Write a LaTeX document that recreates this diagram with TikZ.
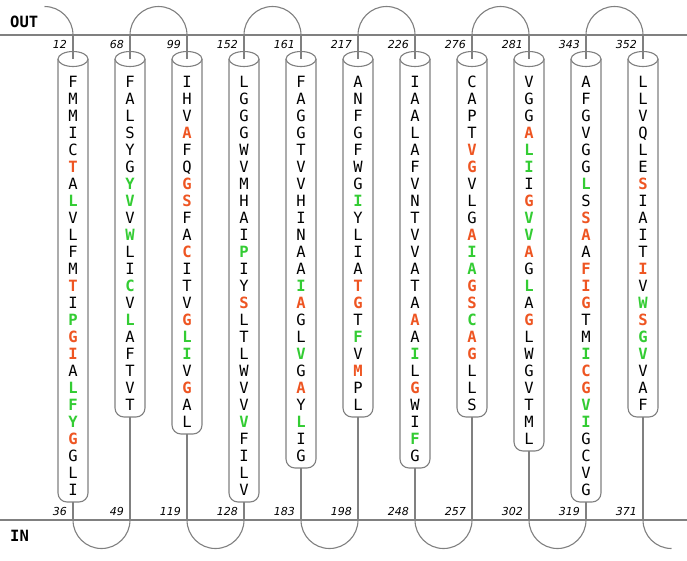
\documentclass[tikz,border=0pt]{standalone}
\usepackage{fontspec}
\setmonofont{DejaVu Sans Mono}
\newfontfamily\numfont{DejaVu Sans}
\definecolor{orng}{HTML}{EE5522}
\definecolor{grn}{HTML}{33CC33}
\definecolor{lncol}{HTML}{808080}
\newcommand\OR[1]{\textcolor{orng}{\bfseries #1}}
\newcommand\GR[1]{\textcolor{grn}{\bfseries #1}}
\begin{document}
\begin{tikzpicture}[x=1pt,y=-1pt,
  wire/.style={draw=lncol,line width=1.1pt},
  tube/.style={draw=lncol,line width=1.1pt,rounded corners=9pt},
  res/.style={font=\ttfamily\fontsize{15.5}{15.5}\selectfont,inner sep=0pt,anchor=base},
  num/.style={font=\numfont\itshape\fontsize{11}{11}\selectfont,inner sep=0pt,anchor=base east},
  side/.style={font=\ttfamily\bfseries\fontsize{15.5}{15.5}\selectfont,inner sep=0pt,anchor=base west}]
\useasboundingbox (0,0) rectangle (687,560);
\fill[white] (0,0) rectangle (687,560);
% membrane lines
\coordinate (outL) at (0,35); \coordinate (outR) at (687,35);
\coordinate (inL) at (0,520); \coordinate (inR) at (687,520);
\draw[wire] (outL) -- (outR);
\draw[wire] (inL) -- (inR);
\node[side] (outlab) at (10,27) {OUT};
\node[side] (inlab) at (10,541) {IN};
% helices
\foreach \k/\n/\tn/\bn/\seq in {
 1/25/12/36/{F,M,M,I,C,\OR T,A,\GR L,V,L,F,M,\OR T,I,\GR P,\OR G,\OR I,A,\GR L,\GR F,\GR Y,\OR G,G,L,I},
 2/20/68/49/{F,A,L,S,Y,G,\GR Y,\GR V,V,\GR W,L,I,\GR C,V,\GR L,A,F,T,V,T},
 3/21/99/119/{I,H,V,\OR A,F,Q,\OR G,\OR S,F,A,\OR C,I,T,V,\OR G,\GR L,\GR I,V,\OR G,A,L},
 4/25/152/128/{L,G,G,G,W,V,M,H,A,I,\GR P,I,Y,\OR S,L,T,L,W,V,V,\GR V,F,I,L,V},
 5/23/161/183/{F,A,G,G,T,V,V,H,I,N,A,A,\GR I,\OR A,G,L,\GR V,G,\OR A,Y,\GR L,I,G},
 6/20/217/198/{A,N,F,G,F,W,G,\GR I,Y,L,I,A,\OR T,\OR G,T,\GR F,V,\OR M,P,L},
 7/23/226/248/{I,A,A,L,A,F,V,N,T,V,V,A,T,A,\OR A,A,\GR I,L,\OR G,W,I,\GR F,G},
 8/20/276/257/{C,A,P,T,\OR V,\OR G,V,L,G,\OR A,\GR I,\GR A,\OR G,\OR S,\GR C,\OR A,\OR G,L,L,S},
 9/22/281/302/{V,G,G,\OR A,\GR L,\GR I,I,\OR G,\GR V,\GR V,\OR A,G,\GR L,A,\OR G,L,W,G,V,T,M,L},
 10/25/343/319/{A,F,G,V,G,G,\GR L,S,\OR S,\OR A,A,\OR F,\OR I,\OR G,T,M,\GR I,\OR C,\OR G,\GR V,\GR I,G,C,V,G},
 11/20/352/371/{L,L,V,Q,L,E,\OR S,I,A,I,T,\OR I,V,\GR W,\OR S,\GR G,\GR V,V,A,F}}{
  \pgfmathsetmacro{\cx}{73+57*(\k-1)}
  \pgfmathsetmacro{\by}{82+17*(\n-1)+12}
  \coordinate (top\k) at (\cx,59);
  \coordinate (bot\k) at (\cx,\by);
  \coordinate (o\k) at (\cx,35);
  \coordinate (i\k) at (\cx,520);
  \draw[tube,fill=white] (\cx-15,59) -- (\cx-15,\by) -- (\cx+15,\by) -- (\cx+15,59);
  \draw[wire,fill=white] (top\k) ellipse[x radius=15,y radius=7.5];
  \draw[wire] (o\k) -- (top\k);
  \draw[wire] (bot\k) -- (i\k);
  \foreach \L [count=\i] in \seq {
    \node[res] (r\k-\i) at (\cx,87+17*\i-17) {\L};
  }
  \node[num] (tn\k) at (\cx-6,48) {\tn};
  \node[num] (bn\k) at (\cx-6,515) {\bn};
}
% loops outside (top) and inside (bottom)
\draw[wire] (44.5,6.5) coordinate (start) arc[start angle=270,end angle=360,radius=28.5];
\foreach \k in {2,4,6,8,10}{
  \draw[wire] (o\k) arc[start angle=180,end angle=360,radius=28.5];
}
\foreach \k in {1,3,5,7,9}{
  \draw[wire] (i\k) arc[start angle=180,end angle=0,radius=28.5];
}
\draw[wire] (i11) arc[start angle=180,end angle=90,radius=28.5] coordinate (finish);
\end{tikzpicture}
\end{document}
